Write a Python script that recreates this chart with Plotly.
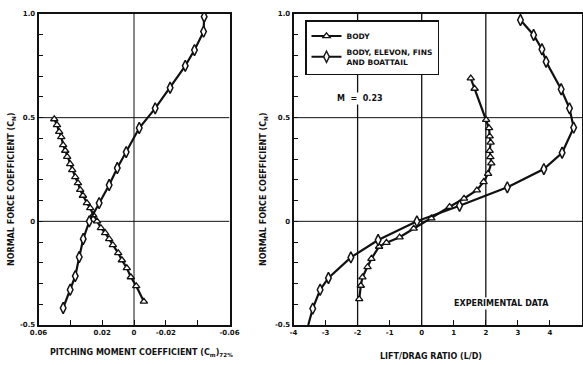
import plotly.graph_objects as go

# ---------------- data ----------------
# Left panel: pitching moment coefficient vs normal force coefficient
body_cm = [0.0501, 0.0484, 0.0470, 0.0457, 0.0445, 0.0432, 0.0420, 0.0401, 0.0388, 0.0369,
           0.0352, 0.0338, 0.0321, 0.0296, 0.0275, 0.0256, 0.0232, 0.0208, 0.0181, 0.0156,
           0.0133, 0.0099, 0.0076, 0.0045, 0.0020, -0.0014, -0.0062]
body_cn_m = [0.493, 0.465, 0.432, 0.407, 0.368, 0.341, 0.312, 0.277, 0.248, 0.214,
             0.185, 0.152, 0.124, 0.088, 0.064, 0.030, 0.000, -0.032, -0.056, -0.085,
             -0.114, -0.153, -0.187, -0.225, -0.269, -0.312, -0.387]

full_cm = [0.0445, 0.0401, 0.0369, 0.0344, 0.0319, 0.0281, 0.0219, 0.0156, 0.0105, 0.0049,
           -0.0033, -0.0133, -0.0227, -0.0322, -0.0380, -0.0437, -0.0441]
full_cn_m = [-0.418, -0.330, -0.264, -0.172, -0.085, 0.000, 0.088, 0.175, 0.257, 0.334,
             0.450, 0.545, 0.644, 0.750, 0.826, 0.915, 0.987]

# Right panel: lift/drag ratio vs normal force coefficient
body_ld = [1.53, 1.65, 2.01, 2.10, 2.12, 2.15, 2.12, 2.14, 2.17, 2.07, 1.93, 1.72, 1.32,
           0.87, 0.30, -0.25, -0.69, -1.10, -1.33, -1.57, -1.69, -1.85, -1.90, -1.95]
body_cn_ld = [0.69, 0.64, 0.49, 0.45, 0.41, 0.38, 0.34, 0.31, 0.28, 0.23, 0.19, 0.15, 0.11,
              0.07, 0.015, -0.035, -0.077, -0.103, -0.122, -0.18, -0.22, -0.27, -0.31, -0.375]

full_ld = [3.08, 3.49, 3.75, 3.88, 4.35, 4.61, 4.74, 4.38, 3.81, 2.67, 1.18, -0.15,
           -1.36, -2.21, -2.91, -3.17, -3.40, -3.54]
full_cn_ld = [0.971, 0.899, 0.830, 0.770, 0.637, 0.545, 0.452, 0.331, 0.252, 0.164, 0.075, 0.000,
              -0.090, -0.174, -0.273, -0.330, -0.421, -0.50]
full_ld_marker = [True] * 17 + [False]

# axes
cm_ticks = [0.06, 0.04, 0.02, 0.0, -0.02, -0.04, -0.06]
cm_ticktext = ["0.06", "", "0.02", "0", "-0.02", "", "-0.06"]
ld_ticks = [-4, -3, -2, -1, 0, 1, 2, 3, 4, 5]
ld_ticktext = ["-4", "-3", "-2", "-1", "0", "1", "2", "3", "4", "5"]
cn_ticks = [-0.5, 0.0, 0.5, 1.0]
cn_ticktext = ["-0.5", "0", "0.5", "1.0"]

grid_cn = [0.0, 0.5]
grid_cm = [0.0]
grid_ld = [-2, 0, 2]

legend_body = "BODY"
legend_full = "BODY, ELEVON, FINS<br>AND BOATTAIL"

# ---------------- figure ----------------
W, H = 583, 365
TOP, BOTTOM = 14, 325          # pixel rows of the plotting area
PH = BOTTOM - TOP
FONT = "DejaVu Sans"
BLACK = "#111111"


def py(pix):
    """pixel row -> paper y (paper is the plotting area)"""
    return (BOTTOM - pix) / PH


fig = go.Figure()

line_style = dict(color=BLACK, width=2.2)
tri_marker = dict(symbol="triangle-up", size=6.5, color="white", line=dict(color=BLACK, width=1.3))
oval_marker = dict(symbol="diamond-tall", size=8, color="white", line=dict(color=BLACK, width=1.5))

fig.add_trace(go.Scatter(x=body_cm, y=body_cn_m, mode="lines+markers", line=line_style,
                         marker=tri_marker, xaxis="x", yaxis="y", showlegend=False))
fig.add_trace(go.Scatter(x=full_cm, y=full_cn_m, mode="lines+markers", line=line_style,
                         marker=oval_marker, xaxis="x", yaxis="y", showlegend=False))

fig.add_trace(go.Scatter(x=body_ld, y=body_cn_ld, mode="lines+markers", line=line_style,
                         marker=tri_marker, xaxis="x2", yaxis="y2", name=legend_body))
fig.add_trace(go.Scatter(x=full_ld, y=full_cn_ld, mode="lines+markers", line=line_style,
                         marker=dict(oval_marker,
                                     opacity=[1 if m else 0 for m in full_ld_marker]),
                         xaxis="x2", yaxis="y2", name=legend_full))

shapes = []
for v in grid_cn:
    shapes.append(dict(type="line", xref="x", yref="y", x0=0.06, x1=-0.06, y0=v, y1=v,
                       line=dict(color=BLACK, width=1), layer="below"))
    shapes.append(dict(type="line", xref="x2", yref="y2", x0=-4, x1=5, y0=v, y1=v,
                       line=dict(color=BLACK, width=1), layer="below"))
for v in grid_cm:
    shapes.append(dict(type="line", xref="x", yref="y", x0=v, x1=v, y0=-0.5, y1=1.0,
                       line=dict(color=BLACK, width=1), layer="below"))
for v in grid_ld:
    shapes.append(dict(type="line", xref="x2", yref="y2", x0=v, x1=v, y0=-0.5, y1=1.0,
                       line=dict(color=BLACK, width=1.3), layer="below"))

tickfont = dict(family=FONT, size=7, color=BLACK, weight="bold")

axis_common = dict(showline=True, linecolor=BLACK, linewidth=1.8, mirror=True,
                   showgrid=False, zeroline=False, ticks="inside", ticklen=5,
                   tickcolor=BLACK, tickwidth=1.3, tickfont=tickfont, automargin=False)

left_dom = [38.5 / W, 229.5 / W]
right_dom = [293.5 / W, 582.0 / W]

fig.update_layout(
    width=W, height=H,
    margin=dict(l=0, r=0, t=TOP, b=H - BOTTOM),
    paper_bgcolor="white", plot_bgcolor="white",
    font=dict(family=FONT, size=7, color=BLACK),
    xaxis=dict(axis_common, domain=left_dom, range=[0.06, -0.06],
               tickvals=cm_ticks, ticktext=cm_ticktext, anchor="y"),
    yaxis=dict(axis_common, domain=[0, 1], range=[-0.5, 1.0], tickvals=cn_ticks,
               ticktext=cn_ticktext, anchor="x",
               minor=dict(dtick=0.1, tick0=0, ticks="inside", ticklen=5,
                          tickcolor=BLACK, tickwidth=1.3)),
    xaxis2=dict(axis_common, domain=right_dom, range=[-4, 5],
                tickvals=ld_ticks, ticktext=ld_ticktext, anchor="y2"),
    yaxis2=dict(axis_common, domain=[0, 1], range=[-0.5, 1.0], tickvals=cn_ticks,
                ticktext=cn_ticktext, anchor="x2",
                minor=dict(dtick=0.1, tick0=0, ticks="inside", ticklen=5,
                           tickcolor=BLACK, tickwidth=1.3)),
    shapes=shapes,
    showlegend=True,
    legend=dict(x=305 / W, y=py(20), xanchor="left", yanchor="top",
                bordercolor=BLACK, borderwidth=1.5, bgcolor="white",
                font=dict(family=FONT, size=7.5, color=BLACK, weight="bold"),
                itemwidth=30, tracegroupgap=1),
)

title_font = dict(family=FONT, size=8, color=BLACK, weight="bold")
ann_common = dict(showarrow=False, font=title_font, xanchor="center", yanchor="middle")
annotations = [
    dict(ann_common, text="NORMAL FORCE COEFFICIENT (C<sub>N</sub>)", xref="paper",
         yref="paper", x=12 / W, y=py(190), textangle=-90),
    dict(ann_common, text="NORMAL FORCE COEFFICIENT (C<sub>N</sub>)", xref="paper",
         yref="paper", x=264 / W, y=py(190), textangle=-90),
    dict(ann_common, text="PITCHING MOMENT COEFFICIENT (C<sub>m</sub>)<sub>72%</sub>",
         xref="paper", yref="paper", x=141 / W, y=py(353)),
    dict(ann_common, text="LIFT/DRAG RATIO (L/D)", xref="paper", yref="paper",
         x=431 / W, y=py(356)),
    dict(ann_common, text="M  =  0.23", xref="x2", yref="y2", x=-1.93, y=0.594,
         bgcolor="white"),
    dict(ann_common, text="EXPERIMENTAL DATA", xref="x2", yref="y2", x=2.49, y=-0.394,
         bgcolor="white"),
]
fig.update_layout(annotations=annotations)

fig.write_html("out.html")
